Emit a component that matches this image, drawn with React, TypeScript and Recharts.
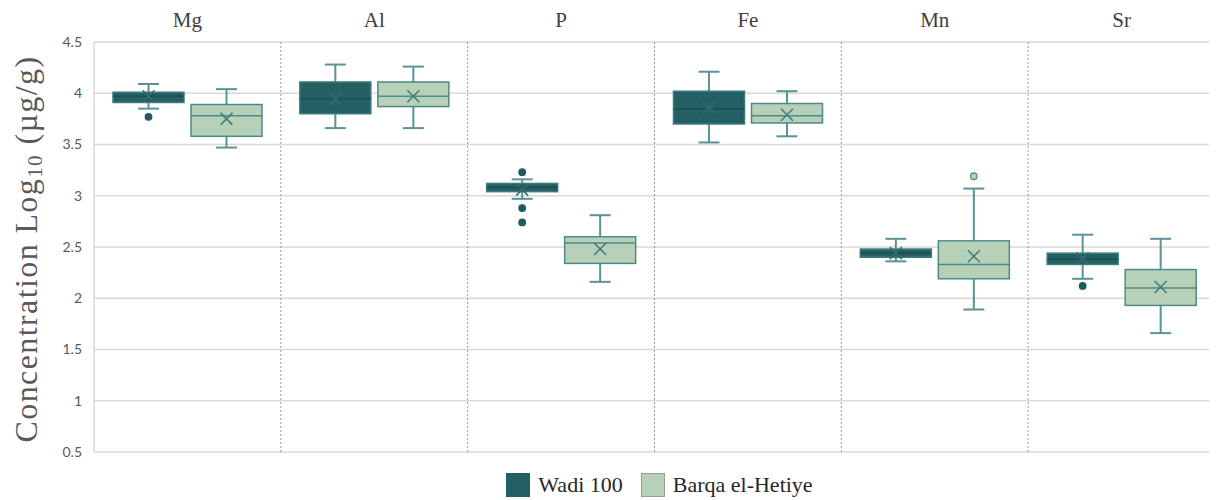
import { ComposedChart, Bar, XAxis, YAxis, CartesianGrid, ReferenceLine, Legend } from "recharts";

const elements = ["Mg", "Al", "P", "Fe", "Mn", "Sr"];
const yTicks = [0.5, 1, 1.5, 2, 2.5, 3, 3.5, 4, 4.5];

// Wadi 100
const wadiMin = [3.85, 3.66, 2.97, 3.52, 2.36, 2.19];
const wadiQ1 = [3.91, 3.8, 3.04, 3.7, 2.4, 2.33];
const wadiMedian = [3.97, 3.95, 3.08, 3.85, 2.44, 2.38];
const wadiQ3 = [4.01, 4.11, 3.12, 4.02, 2.48, 2.44];
const wadiMax = [4.09, 4.28, 3.16, 4.21, 2.58, 2.62];
const wadiMean = [3.97, 3.94, 3.06, 3.86, 2.44, 2.39];
const wadiOutliers = [[3.77], [], [3.23, 2.88, 2.74], [], [], [2.12]];

// Barqa el-Hetiye
const barqaMin = [3.47, 3.66, 2.16, 3.58, 1.89, 1.66];
const barqaQ1 = [3.58, 3.87, 2.34, 3.71, 2.19, 1.93];
const barqaMedian = [3.78, 3.97, 2.54, 3.78, 2.33, 2.1];
const barqaQ3 = [3.89, 4.11, 2.6, 3.9, 2.56, 2.28];
const barqaMax = [4.04, 4.26, 2.81, 4.02, 3.07, 2.58];
const barqaMean = [3.75, 3.97, 2.48, 3.79, 2.41, 2.11];
const barqaOutliers = [[], [], [], [], [3.19], []];

const WADI = {
  min: wadiMin, q1: wadiQ1, median: wadiMedian, q3: wadiQ3, max: wadiMax,
  mean: wadiMean, outliers: wadiOutliers,
  fill: "#245f63", stroke: "#3f7b7d", medianColor: "#1c4f52", meanColor: "#2f6e71", dot: "#1f5a5e",
};
const BARQA = {
  min: barqaMin, q1: barqaQ1, median: barqaMedian, q3: barqaQ3, max: barqaMax,
  mean: barqaMean, outliers: barqaOutliers,
  fill: "#b7d1b9", stroke: "#4e8a8a", medianColor: "#4e8a8a", meanColor: "#3f7b7d", dot: "#b7d1b9",
};

const WHISKER = "#5b9294";
const SERIF = "'Liberation Serif', serif";

const lowOf = (s: any, i: number) => Math.min(s.min[i], ...s.outliers[i]);
const highOf = (s: any, i: number) => Math.max(s.max[i], ...s.outliers[i]);

const data = elements.map((element, i) => ({
  element,
  wadi: [lowOf(WADI, i), highOf(WADI, i)],
  barqa: [lowOf(BARQA, i), highOf(BARQA, i)],
}));

function BoxShape(props: any) {
  const { x, y, width, height, index, s } = props;
  const lo = lowOf(s, index);
  const hi = highOf(s, index);
  const top = Math.min(y, y + height);
  const bottom = Math.max(y, y + height);
  const py = (v: number) => (hi === lo ? top : top + ((hi - v) / (hi - lo)) * (bottom - top));
  const cx = x + width / 2;
  const cap = 10.5;
  const m = 6;
  const my = py(s.mean[index]);
  return (
    <g>
      <line x1={cx} x2={cx} y1={py(s.max[index])} y2={py(s.q3[index])} stroke={WHISKER} strokeWidth={2} />
      <line x1={cx} x2={cx} y1={py(s.q1[index])} y2={py(s.min[index])} stroke={WHISKER} strokeWidth={2} />
      <line x1={cx - cap} x2={cx + cap} y1={py(s.max[index])} y2={py(s.max[index])} stroke={WHISKER} strokeWidth={2} />
      <line x1={cx - cap} x2={cx + cap} y1={py(s.min[index])} y2={py(s.min[index])} stroke={WHISKER} strokeWidth={2} />
      <rect
        x={x}
        y={py(s.q3[index])}
        width={width}
        height={py(s.q1[index]) - py(s.q3[index])}
        fill={s.fill}
        stroke={s.stroke}
        strokeWidth={1.5}
      />
      <line x1={x} x2={x + width} y1={py(s.median[index])} y2={py(s.median[index])} stroke={s.medianColor} strokeWidth={1.5} />
      <line x1={cx - m} x2={cx + m} y1={my - m} y2={my + m} stroke={s.meanColor} strokeWidth={1.5} />
      <line x1={cx - m} x2={cx + m} y1={my + m} y2={my - m} stroke={s.meanColor} strokeWidth={1.5} />
      {s.outliers[index].map((v: number, k: number) => (
        <circle key={k} cx={cx} cy={py(v)} r={3.3} fill={s.dot} stroke={s === WADI ? s.dot : s.stroke} strokeWidth={1.2} />
      ))}
    </g>
  );
}

function YLabel(props: any) {
  const { viewBox } = props;
  const cx = viewBox.x + 22;
  const cy = viewBox.y + viewBox.height / 2 + 2;
  return (
    <text
      x={cx}
      y={cy}
      transform={`rotate(-90, ${cx}, ${cy})`}
      textAnchor="middle"
      dominantBaseline="middle"
      fontFamily={SERIF}
      fontSize={32}
      letterSpacing={1.4}
      fill="#595959"
    >
      Concentration Log
      <tspan fontSize={21} dy={7}>10</tspan>
      <tspan dy={-7}> (µg/g)</tspan>
    </text>
  );
}

function LegendContent() {
  const items = [
    { name: "Wadi 100", fill: WADI.fill, stroke: WADI.fill },
    { name: "Barqa el-Hetiye", fill: BARQA.fill, stroke: "#9a9a9a" },
  ];
  return (
    <div style={{ display: "flex", justifyContent: "center", alignItems: "center", gap: 18, paddingLeft: 96, paddingTop: 20 }}>
      {items.map((it) => (
        <div key={it.name} style={{ display: "flex", alignItems: "center", gap: 8 }}>
          <div style={{ width: 22, height: 22, background: it.fill, border: `1.5px solid ${it.stroke}` }} />
          <span style={{ fontFamily: SERIF, fontSize: 22, color: "#262626" }}>{it.name}</span>
        </div>
      ))}
    </div>
  );
}

export default function App() {
  return (
    <ComposedChart
      width={1209}
      height={492}
      data={data}
      margin={{ top: 0, right: 2, bottom: 0, left: 0 }}
      barSize={71}
      barGap={7}
    >
      <CartesianGrid vertical={false} stroke="#d9d9d9" strokeWidth={1.5} />
      <XAxis
        dataKey="element"
        orientation="top"
        height={34}
        axisLine={false}
        tickLine={false}
        tickSize={0}
        tickMargin={15}
        tick={{ fontFamily: SERIF, fontSize: 21, fill: "#404040" }}
      />
      <YAxis
        domain={[0.5, 4.5]}
        ticks={yTicks}
        width={86}
        axisLine={{ stroke: "#d9d9d9", strokeWidth: 1.5 }}
        tickLine={false}
        tickSize={0}
        tickMargin={12}
        tick={{ fontFamily: "Lato, sans-serif", fontSize: 14, fill: "#595959" }}
        label={{ content: YLabel }}
      />
      {elements.slice(1).map((el) => (
        <ReferenceLine key={el} x={el} position="start" stroke="#9a9a9a" strokeDasharray="2 2" strokeWidth={1} />
      ))}
      <Bar dataKey="wadi" name="Wadi 100" fill={WADI.fill} isAnimationActive={false} shape={(p: any) => <BoxShape {...p} s={WADI} />} />
      <Bar dataKey="barqa" name="Barqa el-Hetiye" fill={BARQA.fill} isAnimationActive={false} shape={(p: any) => <BoxShape {...p} s={BARQA} />} />
      <Legend verticalAlign="bottom" height={48} content={LegendContent} />
    </ComposedChart>
  );
}
